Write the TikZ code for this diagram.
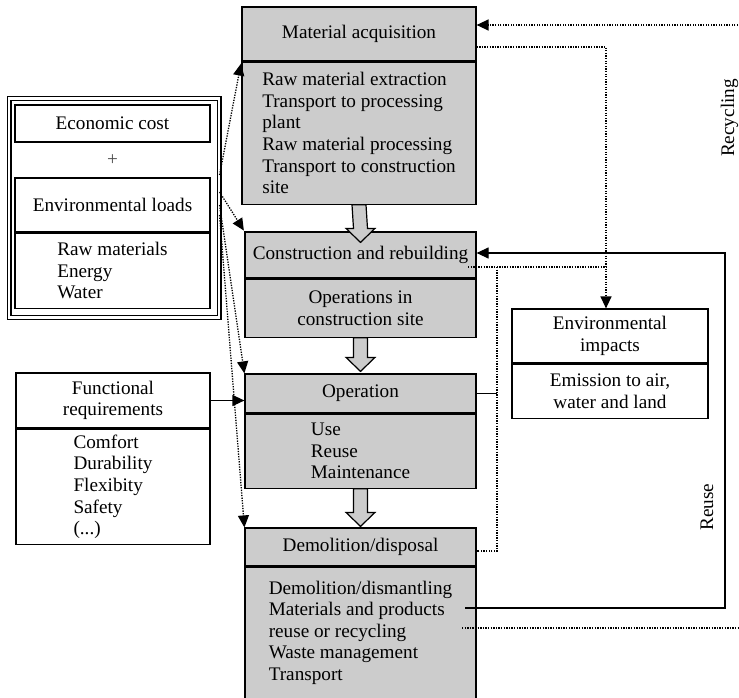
\documentclass[tikz,border=0pt]{standalone}
\usepackage{fontspec}
\setmainfont{Liberation Serif}
\usetikzlibrary{arrows.meta,calc}

\definecolor{stagegray}{RGB}{204,204,204}
\newcommand{\diagfont}{\fontsize{19.2}{21.6}\selectfont}
\newcommand{\stagearrow}[3]{%
\draw [flow] ($(#1.south)+(-7,0)$) -- ($(#2.north)+(-7,#3-14)$) -- ($(#2.north)+(-14.5,#3-14)$) -- ($(#2.north)+(0,#3)$) -- ($(#2.north)+(14.5,#3-14)$) -- ($(#2.north)+(7,#3-14)$) -- ($(#1.south)+(7,0)$) -- cycle ;}

\tikzset{
stage/.style={draw, fill=stagegray, line width=1.2pt, inner sep=0pt, minimum width=231pt},
info/.style={draw, fill=white, line width=1.2pt, inner sep=0pt},
flow/.style={draw, fill=stagegray, line width=1.2pt},
dotline/.style={line width=1.3pt, dash pattern=on 1.3pt off 1.3pt},
solidline/.style={line width=1.2pt},
headtip/.style={-{Triangle[length=12pt,width=11pt]}},
}

\begin{document}
\begin{tikzpicture}[x=1pt, y=-1pt, font=\diagfont]

\useasboundingbox (0,0) rectangle (739,698) ;
\clip (0,0) rectangle (739,698) ;

\node [stage, minimum width=234pt, minimum height=54pt] (mahead) at (359,34) {Material acquisition} ;
\node [stage, minimum width=234pt, minimum height=142pt, align=left, anchor=north] (mabody) at (mahead.south) {Raw material extraction\\Transport to processing\\plant\\Raw material processing\\Transport to construction\\site} ;

\node [stage, minimum height=46pt] (crhead) at (360.5,255) {Construction and rebuilding} ;
\node [stage, minimum height=58pt, align=center, anchor=north] (crbody) at (crhead.south) {Operations in\\construction site} ;

\node [stage, minimum height=39pt] (ophead) at (360.5,393.5) {Operation} ;
\node [stage, minimum height=74pt, align=left, anchor=north] (opbody) at (ophead.south) {Use\\Reuse\\Maintenance} ;

\node [stage, minimum height=38pt] (ddhead) at (360.5,547) {Demolition/disposal} ;
\node [stage, minimum height=131pt, align=left, anchor=north] (ddbody) at (ddhead.south) {Demolition/dismantling\\Materials and products\\reuse or recycling\\Waste management\\Transport} ;

\stagearrow{mabody}{crhead}{11}
\stagearrow{crbody}{ophead}{-2}
\stagearrow{opbody}{ddhead}{-1}

\node [draw, double, double distance=2.8pt, line width=1.1pt, minimum width=210pt, minimum height=218.5pt, inner sep=0pt] (loadframe) at (114,208) {} ;
\node [info, minimum width=195pt, minimum height=37pt] (costbox) at (112.5,123.5) {Economic cost} ;
\node [text=black!70] (plus) at (112.5,160) {+} ;
\node [info, minimum width=195pt, minimum height=54pt] (elhead) at (112.5,205) {Environmental loads} ;
\node [info, minimum width=195pt, minimum height=75pt, align=left, anchor=north] (elbody) at (elhead.south) {Raw materials\\Energy\\Water} ;

\node [info, minimum width=194pt, minimum height=55pt, align=center] (frhead) at (113,400.5) {Functional\\requirements} ;
\node [info, minimum width=194pt, minimum height=115pt, align=left, anchor=north] (frbody) at (frhead.south) {Comfort\\Durability\\Flexibity\\Safety\\(...)} ;

\node [info, minimum width=196pt, minimum height=54pt, align=center] (eihead) at (610,336) {Environmental\\impacts} ;
\node [info, minimum width=196pt, minimum height=54pt, align=center, anchor=north] (eibody) at (eihead.south) {Emission to air,\\water and land} ;

\node [rotate=90, inner sep=0pt] (recyclabel) at (729.5,118) {Recycling} ;
\node [rotate=90, inner sep=0pt] (reuselabel) at (707,507) {Reuse} ;

\coordinate (rtop) at (760,25) ;
\coordinate (rout) at (462,628) ;
\draw [dotline, headtip] (rout) -- (rout -| rtop) -- (rtop) -- (mahead.east |- rtop) ;

\coordinate (emis) at (606,47) ;
\draw [dotline, headtip] (mahead.east |- emis) -- (emis) -- (emis |- eihead.north) ;
\coordinate (crout) at (468,267) ;
\draw [dotline] (crout) -- (emis |- crout) ;
\coordinate (bus) at (497,267) ;
\draw [dotline] (bus) -- ($(bus |- ddhead.east)+(0,4)$) -- ($(ddhead.east)+(0,4)$) ;
\draw [solidline] (ophead.east) -- (bus |- ophead.east) ;

\coordinate (rsout) at (465,608) ;
\coordinate (rsturn) at (725,253) ;
\draw [solidline, headtip] (rsout) -| (rsturn) -- (crhead.east |- rsturn) ;

\draw [solidline, headtip] (frhead.east) -- (frhead.east -| ophead.west) ;

\draw [dotline, headtip, shorten >=2pt] ($(loadframe.east)+(0,-33)$) -- (mahead.south west) ;
\draw [dotline, headtip, shorten >=1pt] ($(loadframe.east)+(0,-16)$) -- (crhead.north west) ;
\draw [dotline, headtip] ($(loadframe.east)+(0,-3)$) -- (ophead.north west) ;
\draw [dotline, headtip] ($(loadframe.east)+(0,7)$) -- (ddhead.north west) ;

\end{tikzpicture}
\end{document}
